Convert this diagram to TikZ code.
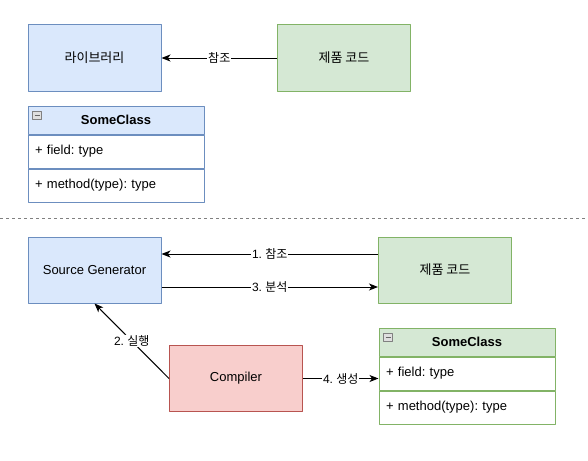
\documentclass[tikz,border=0pt]{standalone}
\usepackage{fontspec}
\setmainfont{Liberation Sans}
\newfontfamily\kr{Noto Sans CJK KR}
\usetikzlibrary{arrows.meta,positioning}
\definecolor{blueFill}{HTML}{DAE8FC}
\definecolor{blueLine}{HTML}{6C8EBF}
\definecolor{greenFill}{HTML}{D5E8D4}
\definecolor{greenLine}{HTML}{82B366}
\definecolor{redFill}{HTML}{F8CECC}
\definecolor{redLine}{HTML}{B85450}
\frenchspacing
\begin{document}
\begin{tikzpicture}[x=1pt, y=-1pt, line width=1pt, line join=round,
    box/.style={draw, minimum width=133pt, minimum height=66pt, inner sep=0pt,
      font=\fontsize{13}{15}\selectfont},
    libbox/.style={box, fill=blueFill, draw=blueLine},
    prodbox/.style={box, fill=greenFill, draw=greenLine},
    compbox/.style={box, fill=redFill, draw=redLine},
    clshead/.style={draw, minimum width=176pt, minimum height=28pt, inner sep=0pt,
      font=\fontsize{13}{15}\selectfont\bfseries},
    clsrow/.style={draw, fill=white, text width=162pt, inner xsep=7pt, inner ysep=0pt,
      minimum height=33pt, align=left, font=\fontsize{13}{15}\selectfont},
    link/.style={-{Stealth[length=9pt,width=7pt,inset=2.5pt]}},
    lbl/.style={fill=white, inner sep=1pt, font=\fontsize{12}{14}\selectfont},
    iconbox/.style={draw=gray, fill=gray!25, line width=0.8pt}]
  \useasboundingbox (0,0) rectangle (588,460);

  % top half
  \node[libbox] (lib) at (94.5,58) {\kr 라이브러리};
  \node[prodbox] (prod1) at (344,58) {\kr 제품 코드};
  \draw[link] (prod1.west) -- (lib.east) node[lbl, midway] {\kr 참조};

  \node[clshead, fill=blueFill, draw=blueLine] (cls1) at (116,120) {SomeClass};
  \node[clsrow, draw=blueLine, below=0pt of cls1] (cls1f) {+ field: type};
  \node[clsrow, draw=blueLine, below=0pt of cls1f] (cls1m) {+ method(type): type};
  \draw[iconbox] ([xshift=5pt,yshift=-6pt]cls1.north west) rectangle ++(9,8);
  \draw[gray!80!black, line width=0.8pt] ([xshift=7pt,yshift=-10pt]cls1.north west) -- ++(5,0);

  \draw[gray, dash pattern=on 3pt off 3pt] (0,218) -- (588,218);

  % bottom half
  \node[libbox] (gen) at (94.5,270) {Source Generator};
  \node[prodbox] (prod2) at (445,270) {\kr 제품 코드};
  \node[compbox] (comp) at (236,378.5) {Compiler};
  \draw[link] ([yshift=16pt]prod2.west) -- ([yshift=16pt]gen.east)
    node[lbl, midway] {1. {\kr 참조}};
  \draw[link] ([yshift=-17pt]gen.east) -- ([yshift=-17pt]prod2.west)
    node[lbl, midway] {3. {\kr 분석}};
  \draw[link] (comp.west) -- (gen.south) node[lbl, midway] {2. {\kr 실행}};

  \node[clshead, fill=greenFill, draw=greenLine] (cls2) at (467,342) {SomeClass};
  \node[clsrow, draw=greenLine, below=0pt of cls2] (cls2f) {+ field: type};
  \node[clsrow, draw=greenLine, below=0pt of cls2f] (cls2m) {+ method(type): type};
  \draw[iconbox] ([xshift=5pt,yshift=-6pt]cls2.north west) rectangle ++(9,8);
  \draw[gray!80!black, line width=0.8pt] ([xshift=7pt,yshift=-10pt]cls2.north west) -- ++(5,0);
  \draw[link] (comp.east) -- (comp.east -| cls2f.west) node[lbl, midway] {4. {\kr 생성}};
\end{tikzpicture}
\end{document}
